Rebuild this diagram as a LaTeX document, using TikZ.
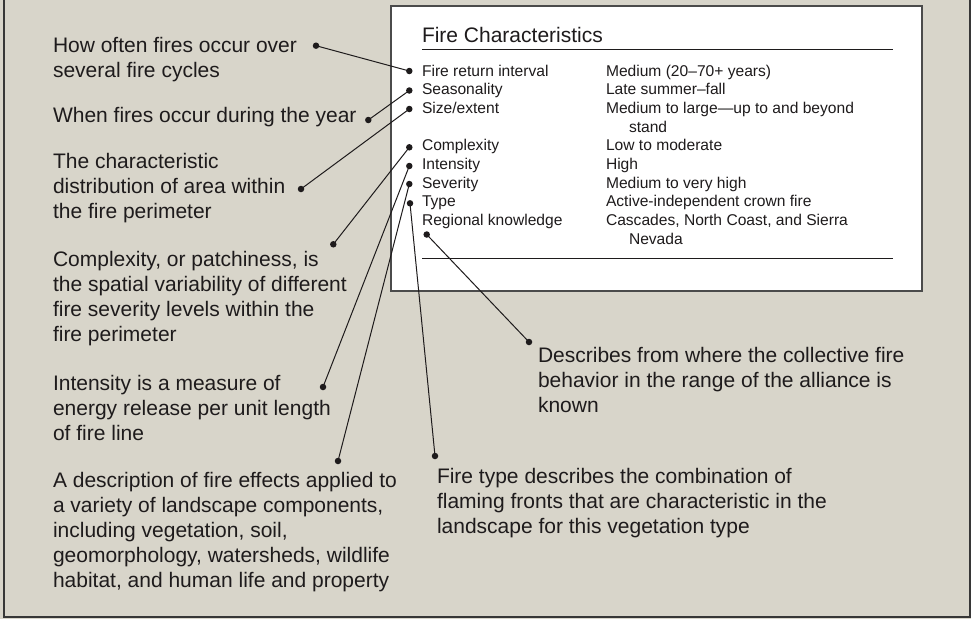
\documentclass[tikz,border=0pt]{standalone}
\usepackage{fontspec}
\setmainfont{Liberation Sans}
\definecolor{bg}{RGB}{216,213,202}
\definecolor{ink}{RGB}{30,27,28}
\definecolor{framecol}{RGB}{55,55,55}
\definecolor{boxline}{RGB}{75,75,75}
\newcommand\blk[1]{\begin{tabular}[t]{@{}l@{}}#1\end{tabular}}
\begin{document}
\begin{tikzpicture}[x=1pt,y=-1pt,
  every node/.style={inner sep=0pt, outer sep=0pt, text=ink},
  note/.style={anchor=base west, font=\fontsize{21}{25.2}\selectfont},
  tbl/.style={anchor=base west, font=\fontsize{15.6}{18.67}\selectfont},
  ttl/.style={anchor=base west, font=\fontsize{21}{25}\selectfont},
  dot/.style={circle, fill=ink, minimum size=6.5pt, inner sep=0pt},
  link/.style={draw=ink, line width=1pt},
  panel/.style={draw=boxline, line width=1.8pt, fill=white, anchor=north west, minimum width=531pt, minimum height=285pt},
  rule/.style={draw=ink, line width=1pt}]
\useasboundingbox (0,0) rectangle (971,619);
\fill[bg] (0,0) rectangle (971,619);
\draw[framecol, line width=1.6pt] (4,0) -- (4,617) -- (970,617) -- (970,0);
% panel
\node[panel] (box) at (391,6) {};
\node[ttl] (title) at (422,42.3) {Fire Characteristics};
\coordinate (r1a) at (422,49);
\coordinate (r1b) at (893,49);
\coordinate (r2a) at (422,258.7);
\coordinate (r2b) at (893,258.7);
\draw[rule] (r1a) -- (r1b);
\draw[rule] (r2a) -- (r2b);
\node[tbl] (labels) at (422,76.3) {\blk{Fire return interval\\Seasonality\\Size/extent\\ \\Complexity\\Intensity\\Severity\\Type\\Regional knowledge}};
\node[tbl] (values) at (606,76.3) {\blk{Medium (20–70+ years)\\Late summer–fall\\Medium to large—up to and beyond\\\hspace{23pt}stand\\Low to moderate\\High\\Medium to very high\\Active-independent crown fire\\Cascades, North Coast, and Sierra\\\hspace{23pt}Nevada}};
% table dots
\node[dot] (p1) at (409.3,71) {};
\node[dot] (p2) at (409.3,90.5) {};
\node[dot] (p3) at (409.3,109) {};
\node[dot] (p4) at (409.3,147.3) {};
\node[dot] (p5) at (409.3,166) {};
\node[dot] (p6) at (409.3,184) {};
\node[dot] (p7) at (410,203.3) {};
\node[dot] (p8) at (426.7,234.5) {};
% notes
\node[note] (n1) at (53,52) {\blk{How often fires occur over\\several fire cycles}};
\node[note] (n2) at (53,122.5) {When fires occur during the year};
\node[note] (n3) at (53,168.5) {\blk{The characteristic\\distribution of area within\\the fire perimeter}};
\node[note] (n4) at (53,266) {\blk{Complexity, or patchiness, is\\the spatial variability of different\\fire severity levels within the\\fire perimeter}};
\node[note] (n5) at (53,390) {\blk{Intensity is a measure of\\energy release per unit length\\of fire line}};
\node[note] (n6) at (53,487) {\blk{A description of fire effects applied to\\a variety of landscape components,\\including vegetation, soil,\\geomorphology, watersheds, wildlife\\habitat, and human life and property}};
\node[note] (n7) at (437,483) {\blk{Fire type describes the combination of\\flaming fronts that are characteristic in the\\landscape for this vegetation type}};
\node[note] (n8) at (538,362) {\blk{Describes from where the collective fire\\behavior in the range of the alliance is\\known}};
% note dots
\node[dot] (q1) at (316,45.7) {};
\node[dot] (q2) at (368.3,120) {};
\node[dot] (q3) at (301,189) {};
\node[dot] (q4) at (333.3,244.3) {};
\node[dot] (q5) at (323,387) {};
\node[dot] (q6) at (338,461) {};
\node[dot] (q7) at (435,456) {};
\node[dot] (q8) at (529,342) {};
% connectors
\draw[link] (q1.center) -- (p1.center);
\draw[link] (q2.center) -- (p2.center);
\draw[link] (q3.center) -- (p3.center);
\draw[link] (q4.center) -- (p4.center);
\draw[link] (q5.center) -- (p5.center);
\draw[link] (q6.center) -- (p6.center);
\draw[link] (q7.center) -- (p7.center);
\draw[link] (q8.center) -- (p8.center);
\end{tikzpicture}
\end{document}
